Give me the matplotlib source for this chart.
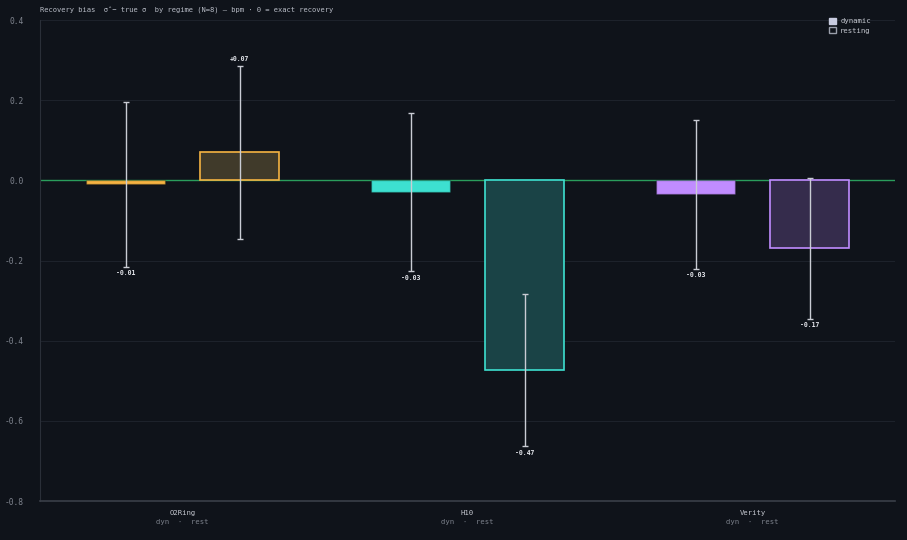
import matplotlib
matplotlib.use("Agg")
import matplotlib.pyplot as plt
import numpy as np
from matplotlib.patches import Patch

devices = ["O2Ring", "H10", "Verity"]
dyn_vals = [-0.01, -0.03, -0.035]
dyn_err = [0.205, 0.197, 0.186]
rest_vals = [0.07, -0.474, -0.17]
rest_err = [0.216, 0.19, 0.175]
dyn_labels = ["-0.01", "-0.03", "-0.03"]
rest_labels = ["+0.07", "-0.47", "-0.17"]
yticks = [0.4, 0.2, 0.0, -0.2, -0.4, -0.6, -0.8]

colors = ["#f5b342", "#3de0d0", "#c08cff"]
rest_fill = ["#403a2a", "#1a4346", "#352c4c"]

BG = "#0f131a"
plt.rcParams['font.family'] = ['DejaVu Sans Mono', 'DejaVu Sans']

fig = plt.figure(figsize=(9.07, 5.4), dpi=100, facecolor=BG)
ax = fig.add_axes([40/907, 1-501/540, (895-40)/907, (501-20)/540], facecolor=BG)

x = np.arange(len(devices))
off = 0.2
w = 0.28
for i in range(len(devices)):
    ax.bar(x[i]-off, dyn_vals[i], w, color=colors[i], edgecolor="#00000040", linewidth=1, zorder=3)
    ax.bar(x[i]+off, rest_vals[i], w, color=rest_fill[i], edgecolor=colors[i], linewidth=1.2, zorder=3)
    ax.errorbar(x[i]-off, dyn_vals[i], yerr=dyn_err[i], fmt='none', ecolor="#c9ccd4", elinewidth=1, capsize=2.2, capthick=1, zorder=4)
    ax.errorbar(x[i]+off, rest_vals[i], yerr=rest_err[i], fmt='none', ecolor="#c9ccd4", elinewidth=1, capsize=2.2, capthick=1, zorder=4)
    for xx, v, e, lab in [(x[i]-off, dyn_vals[i], dyn_err[i], dyn_labels[i]), (x[i]+off, rest_vals[i], rest_err[i], rest_labels[i])]:
        if v >= 0:
            ax.text(xx, v+e+0.008, lab, ha='center', va='bottom', color="#e6e8ee", fontsize=4.7, fontweight='bold', zorder=5)
        else:
            ax.text(xx, v-e-0.008, lab, ha='center', va='top', color="#e6e8ee", fontsize=4.7, fontweight='bold', zorder=5)

ax.axhline(0, color="#2a9d5c", linewidth=1, zorder=2)
ax.set_xlim(-0.5, 2.5)
ax.set_ylim(-0.8, 0.4)
ax.set_yticks(yticks)
ax.set_yticklabels([f"{t:.1f}" for t in yticks])
ax.grid(axis='y', color="#1d222b", linewidth=0.8, zorder=0)
ax.tick_params(axis='y', colors="#80858f", labelsize=5.7, length=0, pad=12)
ax.tick_params(axis='x', length=0, labelbottom=False)
ax.set_xticks(x)
for s in ['top', 'right']:
    ax.spines[s].set_visible(False)
ax.spines['left'].set_color("#2a2f38")
ax.spines['bottom'].set_color("#3a3f48")
ax.spines['bottom'].set_linewidth(1.2)

for i, d in enumerate(devices):
    ax.text(x[i], -0.8 - 0.022, d, ha='center', va='top', color="#c5c8d0", fontsize=5.2)
    ax.text(x[i], -0.8 - 0.046, "dyn  ·  rest", ha='center', va='top', color="#7d828c", fontsize=5.2)

ax.text(0, 1.012, "Recovery bias  σ\u0302− true σ  by regime (N=8) — bpm · 0 = exact recovery",
        transform=ax.transAxes, ha='left', va='bottom', color="#b8bcc6", fontsize=5.1)

handles = [Patch(facecolor="#c8cce0", edgecolor="#c8cce0"),
           Patch(facecolor="none", edgecolor="#9a9fab")]
leg = ax.legend(handles, ["dynamic", "resting"], loc='upper left', bbox_to_anchor=((825-40)/855, (501-14)/481),
                frameon=False, fontsize=5.2, handlelength=1.0, handleheight=1.0, borderpad=0,
                handletextpad=0.6, labelspacing=0.35)
for t in leg.get_texts():
    t.set_color("#c5c8d0")

fig.savefig("out.png", dpi=100, facecolor=BG)
